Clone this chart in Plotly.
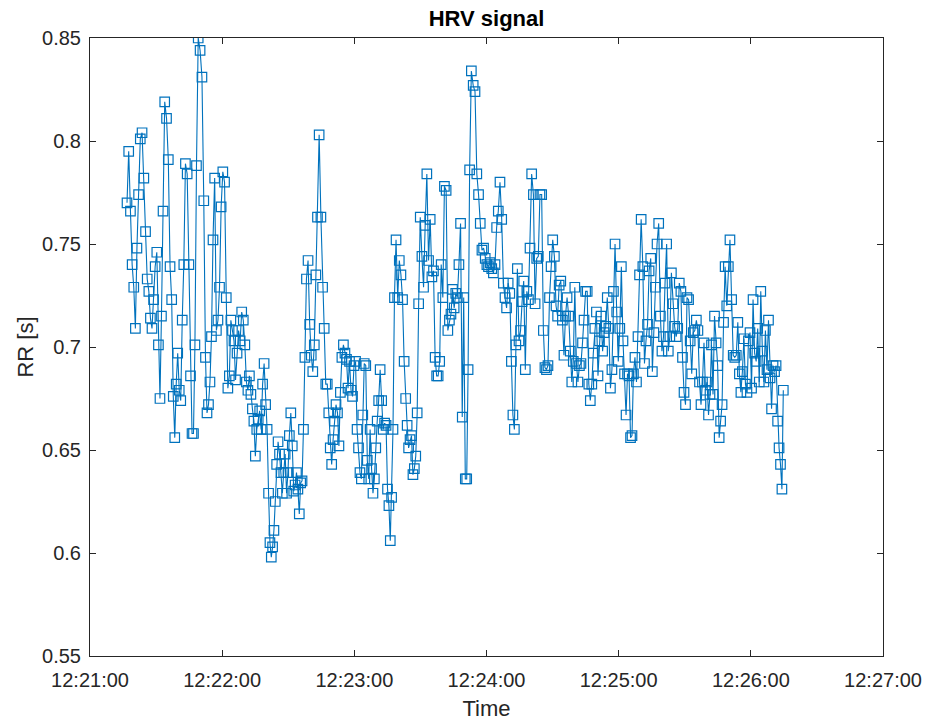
import pandas as pd
import numpy as np
import plotly.graph_objects as go

# RR intervals [s], in beat order (segments by time)
rr_seg1 = [0.770, 0.795, 0.766, 0.740, 0.729, 0.709, 0.748, 0.774, 0.801, 0.804,
           0.782, 0.756, 0.733, 0.727, 0.714, 0.709, 0.723, 0.739, 0.746, 0.701,
           0.675, 0.715, 0.766, 0.819, 0.811, 0.791, 0.739, 0.723, 0.676, 0.656,
           0.682, 0.697, 0.679, 0.674, 0.713, 0.740, 0.789, 0.784, 0.740, 0.686,
           0.658, 0.658, 0.701, 0.788, 0.850, 0.844, 0.831, 0.771, 0.695, 0.668,
           0.672, 0.683, 0.705, 0.752, 0.782, 0.708, 0.713, 0.729, 0.768, 0.785,
           0.780, 0.724, 0.680]
rr_seg2 = [0.686, 0.713, 0.708, 0.703, 0.684, 0.697, 0.708, 0.703, 0.717, 0.713,
           0.701, 0.683, 0.679, 0.686, 0.677, 0.670, 0.664, 0.647, 0.660, 0.665,
           0.669, 0.660, 0.682, 0.692, 0.672, 0.660, 0.629, 0.605, 0.598, 0.603,
           0.611, 0.625, 0.643, 0.654, 0.648, 0.639, 0.629, 0.639, 0.648, 0.629,
           0.639, 0.657, 0.668, 0.652, 0.630, 0.633, 0.639, 0.631, 0.619,
           0.634, 0.635, 0.660, 0.695, 0.733, 0.742, 0.711, 0.696, 0.688, 0.701,
           0.735, 0.763, 0.803, 0.763, 0.729, 0.709, 0.682, 0.682, 0.668, 0.651,
           0.643, 0.655, 0.664, 0.672, 0.668, 0.652, 0.678, 0.695, 0.701, 0.697,
           0.694, 0.680]
rr_seg3 = [0.693, 0.679, 0.676, 0.691, 0.693, 0.660, 0.651, 0.639, 0.636, 0.667,
           0.692, 0.691, 0.645, 0.636, 0.660, 0.641, 0.629, 0.636, 0.651, 0.664,
           0.674, 0.689, 0.674, 0.660, 0.663, 0.662, 0.631, 0.623, 0.606, 0.627,
           0.660, 0.724, 0.752, 0.724, 0.742, 0.735, 0.723, 0.693, 0.675, 0.662,
           0.651, 0.655, 0.657, 0.638, 0.641, 0.647, 0.668, 0.721, 0.763, 0.744,
           0.729, 0.759, 0.784, 0.742, 0.762, 0.734, 0.737, 0.695, 0.686, 0.686,
           0.693, 0.740, 0.724, 0.778, 0.776, 0.708, 0.713, 0.716, 0.728, 0.719,
           0.726, 0.724, 0.740, 0.760, 0.666]
rr_seg4 = [0.724, 0.636, 0.636, 0.689, 0.786, 0.834, 0.827, 0.824, 0.784, 0.774,
           0.760, 0.747, 0.748, 0.743, 0.740, 0.739, 0.741, 0.738, 0.736, 0.740,
           0.758, 0.766, 0.780, 0.762, 0.731, 0.724, 0.719, 0.731, 0.726, 0.693,
           0.667, 0.660, 0.701, 0.738, 0.703, 0.708, 0.722, 0.732, 0.689, 0.727,
           0.723, 0.748, 0.784, 0.774, 0.721, 0.743, 0.744, 0.774, 0.774, 0.708,
           0.690, 0.689, 0.691, 0.724, 0.739, 0.752, 0.744, 0.720, 0.715, 0.730,
           0.732, 0.713, 0.696, 0.715, 0.724, 0.715, 0.698, 0.683, 0.693, 0.729,
           0.692]
rr_seg5 = [0.683, 0.691, 0.692, 0.702, 0.713, 0.727, 0.727, 0.682, 0.674, 0.682,
           0.697, 0.709, 0.717, 0.686, 0.703, 0.715, 0.698, 0.707, 0.710,
           0.724, 0.709, 0.680, 0.689, 0.727, 0.750, 0.717, 0.693, 0.709, 0.739,
           0.703, 0.687, 0.667, 0.687, 0.686, 0.656, 0.657, 0.687, 0.695, 0.683,
           0.705, 0.735, 0.762, 0.739, 0.692, 0.703, 0.711, 0.737, 0.743, 0.688,
           0.707, 0.729, 0.750, 0.760, 0.715, 0.698, 0.705, 0.731, 0.750, 0.698,
           0.705, 0.736, 0.721, 0.710, 0.705, 0.709, 0.731, 0.727, 0.695, 0.678,
           0.672, 0.724]
rr_seg6 = [0.723, 0.703, 0.687, 0.707, 0.708, 0.713, 0.708, 0.683, 0.672, 0.683,
           0.702, 0.679, 0.683, 0.667, 0.677, 0.701, 0.677, 0.715, 0.702, 0.691,
           0.656, 0.664, 0.672, 0.712, 0.739, 0.720, 0.739, 0.752, 0.723,
           0.696, 0.695, 0.696, 0.712, 0.687, 0.678, 0.688, 0.704, 0.682, 0.678,
           0.703, 0.707, 0.680, 0.723, 0.697, 0.693, 0.709, 0.683, 0.727, 0.698,
           0.683, 0.708, 0.689, 0.713, 0.685, 0.670, 0.691, 0.688, 0.691, 0.664,
           0.651, 0.643, 0.631, 0.679]

start_time = "2000-01-01 12:21:16.8"
x_ticks = ["12:21:00", "12:22:00", "12:23:00", "12:24:00", "12:25:00", "12:26:00", "12:27:00"]
y_ticks = [0.55, 0.6, 0.65, 0.7, 0.75, 0.8, 0.85]

rr = np.array(rr_seg1 + rr_seg2 + rr_seg3 + rr_seg4 + rr_seg5 + rr_seg6)
# beat times: first beat at start, each next beat after the RR interval
offsets = np.concatenate([[0.0], np.cumsum(rr[:-1])])
t = pd.Timestamp(start_time) + pd.to_timedelta(offsets, unit="s")

day = "2000-01-01 "
tickvals_x = [pd.Timestamp(day + s) for s in x_ticks]

blue = "#0072BD"
axcol = "#262626"
fnt = "Liberation Sans, Arial, Helvetica, sans-serif"

fig = go.Figure()
fig.add_trace(go.Scatter(
    x=t, y=rr, mode="lines+markers",
    line=dict(color=blue, width=1.1),
    marker=dict(symbol="square-open", size=9.5, color=blue, line=dict(width=1.2, color=blue)),
    showlegend=False,
))

fig.update_layout(
    width=925, height=724,
    paper_bgcolor="white", plot_bgcolor="white",
    margin=dict(l=90, r=42, t=38, b=68),
    font=dict(family=fnt, size=20, color=axcol),
    title=dict(text="<b>HRV signal</b>", x=0.5, xref="paper", xanchor="center",
               y=0.975, yref="container", yanchor="middle",
               font=dict(size=22, color="black", family=fnt)),
)
fig.update_xaxes(
    range=[tickvals_x[0], tickvals_x[-1]],
    tickvals=tickvals_x, ticktext=x_ticks,
    showgrid=False, zeroline=False,
    showline=True, linecolor=axcol, linewidth=1, mirror="allticks",
    ticks="inside", ticklen=6, tickcolor=axcol,
    ticklabelstandoff=6, automargin=False,
    title=dict(text="Time", font=dict(size=22), standoff=10),
)
fig.update_yaxes(
    range=[0.55, 0.85],
    tickvals=y_ticks, ticktext=[f"{v:g}" for v in y_ticks],
    showgrid=False, zeroline=False,
    showline=True, linecolor=axcol, linewidth=1, mirror="allticks",
    ticks="inside", ticklen=6, tickcolor=axcol,
    ticklabelstandoff=4, automargin=False,
    title=dict(text="RR [s]", font=dict(size=22), standoff=2),
)

fig.write_html("out.html")
